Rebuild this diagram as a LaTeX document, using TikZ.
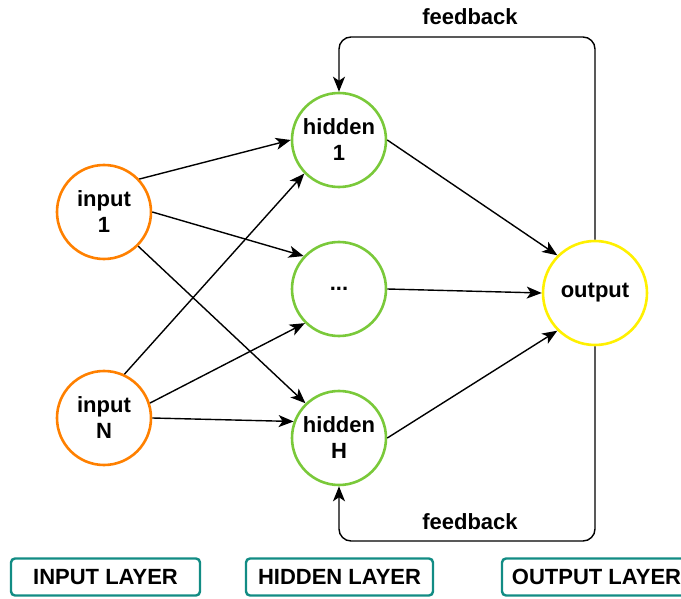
\documentclass[tikz,border=0pt]{standalone}
\usepackage{fontspec}
\setmainfont{Liberation Sans}
\usetikzlibrary{arrows.meta}
\definecolor{inorange}{RGB}{255,128,0}
\definecolor{hidgreen}{RGB}{122,201,58}
\definecolor{outyellow}{RGB}{255,240,0}
\definecolor{layerteal}{RGB}{18,140,132}
\tikzset{
  neuron/.style={circle, draw, line width=2.6pt, minimum size=94pt, inner sep=0pt,
    align=center, font=\fontsize{22}{26}\selectfont\bfseries},
  inneuron/.style={neuron, draw=inorange},
  hidneuron/.style={neuron, draw=hidgreen},
  outneuron/.style={neuron, draw=outyellow, minimum size=104pt},
  link/.style={line width=1.4pt, -{Stealth[length=15pt, width=12pt, inset=4pt]}},
  fbline/.style={link, rounded corners=12pt},
  fblabel/.style={font=\fontsize{22}{26}\selectfont\bfseries},
  layerbox/.style={draw=layerteal, line width=2.4pt, rounded corners=4pt,
    minimum height=37pt, inner sep=0pt, font=\fontsize{22}{26}\selectfont\bfseries}
}
\begin{document}
\begin{tikzpicture}[x=1pt, y=-1pt]
  \useasboundingbox (0,0) rectangle (681,599);
  \clip (0,0) rectangle (681,599);

  % neurons
  \node[inneuron] (in1) at (104,212) {input\\1};
  \node[inneuron] (inN) at (104,418) {input\\N};
  \node[hidneuron] (h1) at (339,140) {hidden\\1};
  \node[hidneuron] (hd) at (339,289) {...};
  \node[hidneuron] (hH) at (339,438) {hidden\\H};
  \node[outneuron] (out) at (595,293) {output};

  % input -> hidden
  \draw[link] (in1.43) -- (h1.180);
  \draw[link] (in1.0) -- (hd.137);
  \draw[link] (in1.-45) -- (hH.134);
  \draw[link] (inN.65) -- (h1.224);
  \draw[link] (inN.18) -- (hd.225);
  \draw[link] (inN.0) -- (hH.160);

  % hidden -> output
  \draw[link] (h1.0) -- (out.135);
  \draw[link] (hd.0) -- (out.180);
  \draw[link] (hH.0) -- (out.225);

  % feedback loops
  \coordinate (fbtop) at (467,37);
  \coordinate (fbbot) at (467,541);
  \draw[fbline] (out.north) |- (fbtop) -| (h1.north);
  \draw[fbline] (out.south) |- (fbbot) -| (hH.south);
  \node[fblabel] (fbtoplabel) at (470,17) {feedback};
  \node[fblabel] (fbbotlabel) at (470,522) {feedback};

  % layer captions
  \node[layerbox, minimum width=189pt] (inlayer) at (105.5,577) {INPUT LAYER};
  \node[layerbox, minimum width=187pt] (hidlayer) at (339.5,577) {HIDDEN LAYER};
  \node[layerbox, minimum width=189pt] (outlayer) at (596.5,577) {OUTPUT LAYER};
\end{tikzpicture}
\end{document}
